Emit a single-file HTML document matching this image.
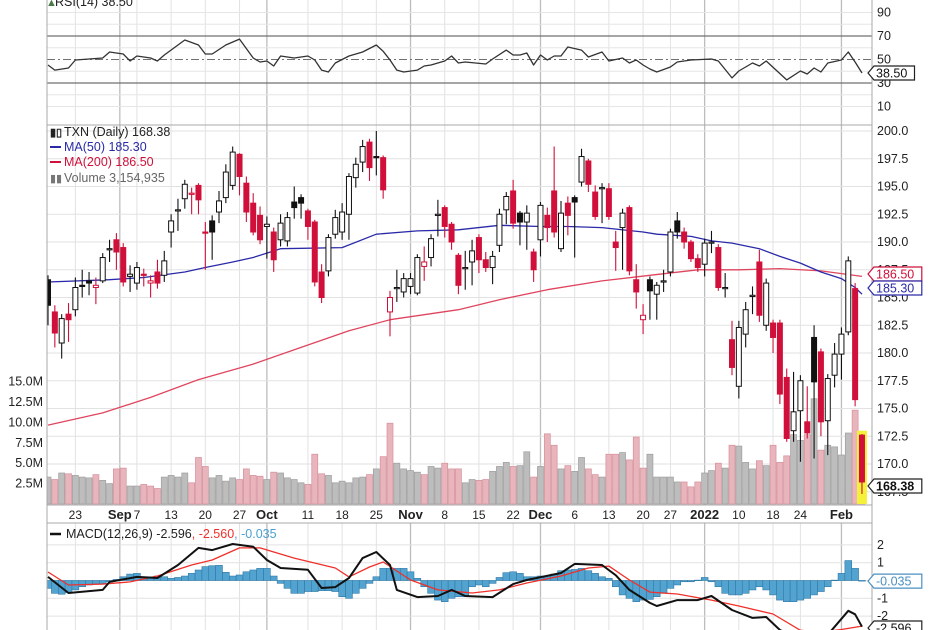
<!DOCTYPE html>
<html><head><meta charset="utf-8"><style>
html,body{margin:0;padding:0;background:#fff;}
svg{display:block;font-family:"Liberation Sans",sans-serif;}
</style></head><body>
<svg id="c" width="936" height="630" viewBox="0 0 936 630">
<defs>
<clipPath id="cpP"><rect x="47" y="125" width="825" height="380"/></clipPath>
<clipPath id="cpM"><rect x="47" y="523" width="825" height="107"/></clipPath>
<clipPath id="cpR"><rect x="47" y="0" width="825" height="125"/></clipPath>
</defs>
<g id="grid"></g><g id="vol" clip-path="url(#cpP)"></g><g id="ma" clip-path="url(#cpP)"></g><g id="candles" clip-path="url(#cpP)"></g>
<g id="rsi" clip-path="url(#cpR)"></g><g id="macd" clip-path="url(#cpM)"></g><g id="axes"></g><g id="labels"></g>
</svg>
<script>
// ---- data ----
const opens=[186.6,183.7,180.9,183.5,183.9,186.1,186.5,185.9,186.5,189.3,190.2,189.5,186.9,186.3,187.1,186.3,187.3,187,190.9,192.8,193.9,194.3,195.1,190.9,191.9,192.7,194,195.1,197.9,195.3,193.5,192.4,191.4,190.9,190.2,190.1,193.6,194,192.8,191.8,187.3,187.4,190.7,190.9,192.5,195.8,197.2,199,197.7,197.6,183.7,185.9,185.5,186,185.4,187.8,188.6,192.5,193.1,191.6,188.8,187.7,188.2,190.4,188.4,187.7,189.7,192.9,194.6,192.6,191.8,189.1,190.2,192.4,194.6,189.4,193.5,194,195.4,197.3,194.5,194.9,194.8,190,191.3,193.1,186.6,183,186.6,185.3,186.5,187.3,191.9,190.9,190,188.5,188,190,189.5,185.9,181.2,177,181.7,185.2,188.2,182.5,182.7,182.7,177.8,173,174.8,173.8,181.4,180.1,173.9,178,179.9,181.9,185.8,172.6];
const closes=[184.3,181.8,183.1,183,185.9,186,186.3,186.1,188.6,189.4,189.1,186.4,187.1,187.7,187,186.5,186.3,188.3,191.9,192.9,195.2,194.4,193.8,190.8,190.9,193.7,196.3,198.1,195.9,192.7,190.9,190.2,191.6,188.4,191.7,192.2,193.1,193.5,191.4,186.4,185,190.4,192.2,192.7,195.9,197,198.6,196.7,197.6,194.7,185,185.9,186.7,186.7,188.6,188.2,190.3,192.5,191.4,190,186.1,187.7,189.2,188.4,187.7,188.7,192.5,194.1,191.7,191.8,192.6,187.5,193.3,191.3,190.9,192.6,192.4,193.6,197.7,195.2,192.3,194.9,192.3,189.5,192.6,187.4,185.5,183.4,185.6,186.1,186.5,190.9,190.9,190,188.5,187.7,189.9,190,185.9,185.9,178.7,182.3,183.9,185.2,183.4,186.3,181.4,176.3,172.3,174.7,177.5,172.8,177.4,173.8,177.7,179.9,181.7,188.3,175.8,168.38];
const highs=[187,184.3,183.5,184.5,186.8,187.5,187.3,186.8,189,190.2,190.8,189.9,187.9,188.2,187.6,187,188.4,189.2,192.5,193.9,195.6,194.9,195.3,191.8,192.4,194.6,197,198.6,198,195.9,194.4,193.2,192.3,191.3,192.5,192.7,195,194.3,193,192,188,190.7,192.9,193.5,196.2,197.6,199.2,199.3,200,197.8,185.6,187.5,187.2,187.2,188.9,189.6,190.7,193.8,193.3,191.8,189,189.2,190.2,190.7,189.1,189.2,193,194.5,195.6,192.8,193.3,189.4,193.6,193.1,198.6,193.7,194.1,194.2,198.4,197.5,195.1,195.3,195.3,191,193,193.3,188,184.4,186.9,186.4,187.5,191.2,192.7,191.3,190.2,188.9,190.3,191,189.8,187.2,182.9,182.9,184.6,186,189.3,186.7,183,183,178.6,178.3,178,177,182.5,180.4,178.1,180.9,182.3,188.7,186.3,172.7];
const lows=[182.5,180.5,179.5,181,183.3,185,185.2,184.4,186.3,188.2,187.5,186,185.5,185.7,186,185,185.8,186.4,189.5,191,193,192.5,192.5,187.5,188.4,191.7,193.5,194.7,194.2,191.8,190.6,189.8,188.5,187.3,189.6,189.6,192.1,192.1,190.2,186,184.5,186.9,190.3,190.2,190.2,194.9,196.3,195.5,196,193.9,181.5,184.6,185,185.3,185.2,186.5,187.8,190.5,190.4,189.3,185.3,185.7,186.1,187.2,187.3,186.2,189.1,191.6,191.2,189.7,189.3,186.4,188.7,190,190.4,189.1,190.6,188.6,195,194.5,192,191.7,192,187.4,187.5,187,184,181.7,183,183,185.5,186.9,190.3,189.4,188.2,187.3,186.9,189,185.6,185,178,175.9,180.5,183.5,182.8,182,180,175.4,172,172,170.2,172.3,170.5,172.5,170.8,176.9,177.6,181.6,175.2,167.3];
const volumes=[3.3,3.0,3.8,3.7,3.5,3.3,3.2,3.6,2.9,2.5,4.3,4.4,2.2,2.2,2.4,2.2,1.9,3.3,3.5,3.3,3.8,2.6,5.7,4.6,3.2,3.5,2.8,3.2,3.0,4.3,3.5,3.4,3.0,3.9,3.8,3.2,3.0,2.6,2.4,6.1,3.7,3.5,2.6,2.8,2.6,3.2,3.3,3.6,4.3,5.8,9.9,5.0,4.3,4.1,3.9,3.6,4.6,4.4,5.0,4.3,4.3,2.6,3.0,2.9,3.0,4.0,4.6,5.1,4.6,4.7,6.4,3.3,4.6,8.6,7.2,4.3,4.7,4.0,5.7,4.3,3.6,3.3,6.1,6.1,6.3,5.4,8.2,4.4,6.1,3.3,3.3,3.3,2.7,2.7,2.1,2.7,3.8,4.1,5.0,4.4,7.2,7.1,5.1,4.3,5.3,4.7,7.2,5.1,5.9,8.5,7.8,8.5,12.9,6.6,7.2,7.0,6.0,8.7,11.5,3.2];
const ma50Idx=[0,9,14,20,23,27,30,34,43,48,54,60,66,72,76,81,87,89,94,97,100,104,107,110,113,116,118,119];
const ma50Val=[186.4,186.6,186.8,187.3,187.7,188.2,188.6,189.4,189.5,190.7,191.0,191.1,191.5,191.4,191.4,191.3,190.9,190.7,190.5,190.1,189.9,189.4,188.7,188.1,187.3,186.7,185.9,185.3];
const ma200Idx=[0,8,15,22,30,37,44,50,60,66,73,81,88,95,101,107,113,119];
const ma200Val=[173.5,174.6,176,177.6,179,180.5,182,183,183.9,184.8,185.7,186.5,187,187.5,187.5,187.6,187.4,186.9];
const rsiIdx=[0,1,3,4,8,9,11,12,13,15,16,17,19,20,22,23,24,26,28,30,31,32,33,34,36,38,39,40,41,42,44,46,48,49,50,51,52,54,55,56,58,59,60,61,64,65,67,68,69,70,71,72,73,74,75,76,78,79,81,82,84,85,86,87,88,89,91,92,94,97,98,100,101,103,104,105,108,110,111,112,113,114,116,117,118,119];
const rsiVal=[45.3,41,42.8,49.6,51.3,56.4,54.7,48.7,53,51.3,48.7,53.8,62.3,66.6,62.3,54.7,54.7,62.3,67.4,51.3,47.9,48.7,44.5,53,51.3,53,49.6,41,39.4,47,53,56.4,62.3,57,49.6,41,39.4,41,44.5,45.3,48.7,53,47,47.9,46.2,50.4,58,53.8,53.8,55.5,45.3,53.8,49.6,53,53,60.6,58,52.1,56.4,48.7,51.3,47,49.6,45.3,41.9,39.4,43.6,47.9,49.6,50.4,48.7,34.3,40.2,47,44.5,48.7,32.6,40.2,37.7,42.8,39.4,47,49.6,56.4,47.9,38.5];
const macdIdx=[0,3,8,9,13,16,19,22,24,27,30,32,34,38,40,42,44,46,48,50,51,54,57,59,61,65,68,70,75,77,81,83,85,88,89,92,95,97,100,103,105,107,110,113,115,117,118,119];
const macdVal=[0.2,-0.7,-0.53,-0.08,0.2,0.14,0.87,1.83,1.71,2.05,1.9,1.15,0.7,0.6,-0.42,-0.37,0.14,1.26,1.6,0.87,-0.53,-0.93,-0.87,-0.53,-0.87,-0.93,-0.2,0.03,0.42,0.93,0.87,0.3,-0.53,-1.26,-1.43,-1.1,-1.1,-0.87,-1.66,-2.1,-2.05,-2.78,-3.3,-3.5,-2.6,-1.7,-1.9,-2.596];
const sigIdx=[0,3,8,12,16,21,24,28,31,36,42,44,47,49,53,57,62,66,70,75,79,82,85,88,92,97,101,106,110,113,116,119];
const sigVal=[0.48,-0.25,-0.2,-0.08,0.25,0.87,1.15,1.83,1.83,1.26,0.7,0.2,0.76,1.04,0.03,-0.53,-0.7,-0.53,-0.14,0.25,0.7,0.81,0.03,-0.65,-0.76,-1.1,-1.43,-1.88,-2.8,-2.9,-2.75,-2.56];
const hist=[-0.44,-0.72,-0.77,-0.68,-0.53,-0.35,-0.25,-0.16,-0.16,-0.07,0.06,0.21,0.36,0.4,0.21,0.21,0.25,0.21,0.12,0.17,0.25,0.4,0.59,0.78,0.83,0.85,0.46,0.25,0.31,0.49,0.59,0.68,0.68,0.25,-0.16,-0.44,-0.72,-0.72,-0.62,-0.62,-0.57,-0.57,-0.62,-0.91,-1.0,-0.72,-0.44,-0.16,0.21,0.68,0.68,0.68,0.68,0.49,0.12,-0.35,-0.72,-1.1,-1.19,-1.0,-0.91,-0.91,-0.35,-0.25,-0.35,-0.16,0.17,0.44,0.49,0.4,0.21,0.21,0.25,0.25,0.36,0.55,0.59,0.62,0.68,0.55,0.4,0.21,0.12,-0.35,-0.81,-1.0,-1.19,-1.1,-1.06,-0.91,-0.72,-0.44,-0.25,-0.07,-0.07,0.02,0.17,-0.07,-0.35,-0.72,-0.81,-0.81,-0.72,-0.53,-0.35,-0.53,-0.81,-1.1,-1.19,-1.19,-1.1,-1.0,-0.81,-0.62,-0.35,0.02,0.4,1.12,0.68,-0.035];
const dateLabels=["23","Sep","7","13","20","27","Oct","11","18","25","Nov","8","15","22","Dec","6","13","20","27","2022","10","18","24","Feb"];
const dateIdx=[4,10.5,13,18,23,28,32,38,43,48,53,58,63,68,72,77,82,87,91,96,101,106,110,116];
const priceTicks=[200,197.5,195,192.5,190,187.5,185,182.5,180,177.5,175,172.5,170,167.5];
const volTicks=[15,12.5,10,7.5,5,2.5];
const rsiTicks=[90,70,50,30,10];
const macdTicks=[2,1,-1,-2];
// ---- scales ----
const xOf=i=>48+i*6.84;
const yP=p=>131+(200-p)*11.1;
const yV=m=>504-m*8.16;
const yR=r=>83-(r-30)*1.175;
const yM=v=>580.5-v*17.8;
const NS="http://www.w3.org/2000/svg";
function mk(tag,attrs,parent,text){const e=document.createElementNS(NS,tag);for(const k in attrs)e.setAttribute(k,attrs[k]);if(text!==undefined)e.textContent=text;document.getElementById(parent).appendChild(e);return e;}
// grid
const months=["Sep","Oct","Nov","Dec","2022","Feb"];
dateIdx.forEach((d,k)=>{const x=xOf(d);const isM=months.includes(dateLabels[k]);
 const g=mk('line',{x1:x,x2:x,y1:0,y2:630,stroke:isM?'#bdbdbd':'#e2e2e2','stroke-width':isM?1.3:1},'grid');
 
 });
priceTicks.forEach(p=>{const y=yP(p);const g=mk('line',{x1:47,x2:872,y1:y,y2:y,stroke:'#e2e2e2'},'grid');
 
 });
[90,80,60,40,20,10].forEach(r=>{const y=yR(r);const g=mk('line',{x1:47,x2:872,y1:y,y2:y,stroke:'#e6e6e6'},'grid');
 
 });
[2,1,0,-1,-2].forEach(v=>{const y=yM(v);const g=mk('line',{x1:47,x2:872,y1:y,y2:y,stroke:'#e2e2e2'},'grid');
 
 });
// rsi lines 70/30/50
[70,30].forEach(r=>{const y=yR(r);const l=mk('line',{x1:47,x2:872,y1:y,y2:y,stroke:'#707070','stroke-width':1.3},'grid');
 
 });
const mid=mk('line',{x1:47,x2:872,y1:yR(50),y2:yR(50),stroke:'#707070','stroke-dasharray':'8,3,2,3'},'grid');


// volume
volumes.forEach((v,i)=>{const down=i>0&&closes[i]<closes[i-1];const x=xOf(i);
 const r=mk('rect',{x:x-3,y:yV(v),width:6,height:504-yV(v),fill:down?'#e8b5bd':'#bdbdbd',stroke:down?'#d68f9b':'#9e9e9e','stroke-width':0.7},'vol');
 
 });
// highlight last
const hl=mk('rect',{x:xOf(119)-5,y:yP(173),width:10,height:504-yP(173),fill:'#f5f03a'},'vol');


// MA lines
function poly(idx,val,yf,color,w,parent,name){const pts=idx.map((d,k)=>xOf(d).toFixed(1)+','+yf(val[k]).toFixed(1)).join(' ');
 const p=mk('polyline',{points:pts,fill:'none',stroke:color,'stroke-width':w,'stroke-linejoin':'round'},parent);
 
 }
poly(ma200Idx,ma200Val,yP,'#e0455f',1.3,'ma','ma200-line');
poly(ma50Idx,ma50Val,yP,'#2a2aa8',1.3,'ma','ma50-line');
// candles
opens.forEach((o,i)=>{const c=closes[i];const x=xOf(i);const down=i>0&&c<closes[i-1];const col=down?'#d0103a':'#111';
 const w=mk('line',{x1:x,x2:x,y1:yP(highs[i]),y2:yP(lows[i]),stroke:col,'stroke-width':1.1},'candles');
 
 
 const top=yP(Math.max(o,c)),bot=yP(Math.min(o,c));const h=Math.max(bot-top,1.2);
 const hollow=c>=o;
 const b=mk('rect',{x:x-2.5,y:top,width:5,height:h,fill:hollow?'#fff':col,stroke:col,'stroke-width':1},'candles');
 
 });
// RSI
poly(rsiIdx,rsiVal,yR,'#333',1.3,'rsi','rsi-line');
// MACD
hist.forEach((v,i)=>{const x=xOf(i);const y0=yM(0),y1=yM(v);
 const r=mk('rect',{x:x-3.4,y:Math.min(y0,y1),width:6.84,height:Math.max(Math.abs(y1-y0),0.5),fill:'#52a3d0',stroke:'#2f78a6','stroke-width':0.6},'macd');
 
 });
poly(sigIdx,sigVal,yM,'#f0302a',1.3,'macd','signal-line');
poly(macdIdx,macdVal,yM,'#111',2,'macd','macd-line');
// axes / frames
[[47,0,47,630],[872,0,872,630],[47,125,872,125],[47,505,872,505],[47,523,872,523]].forEach(a=>{
 const l=mk('line',{x1:a[0],y1:a[1],x2:a[2],y2:a[3],stroke:'#a8a8a8','stroke-width':1},'axes');
 
 });
const ax=mk('rect',{x:47.5,y:505.5,width:824,height:17,fill:'#fff'},'axes');


// tick labels
function txt(x,y,s,opt,name){const t=mk('text',Object.assign({x:x,y:y,'font-size':12,fill:'#222'},opt||{}),'labels',s);
 
 return t;}
dateLabels.forEach((s,k)=>{const b=months.includes(s);txt(xOf(dateIdx[k]),519,s,{'text-anchor':'middle','font-weight':b?'bold':'normal','font-size':b?13:12},'x-tick-label');});
priceTicks.forEach(p=>txt(877,yP(p)+4,p.toFixed(1),{'font-size':12.5},'price-tick-label'));
volTicks.forEach(m=>txt(43,yV(m)+4,m.toFixed(1)+'M',{'text-anchor':'end','font-size':12.5},'volume-tick-label'));
rsiTicks.forEach(r=>txt(877,yR(r)+4,String(r),{'font-size':12.5},'rsi-tick-label'));
macdTicks.forEach(v=>txt(877,yM(v)+4,String(v),{'font-size':12.5},'macd-tick-label'));
// value tags
function tag(y,s,color,bold,name){const g=mk('polygon',{points:`868,${y} 874,${y-7} ${s.length*7.3+878},${y-7} ${s.length*7.3+878},${y+7} 874,${y+7}`,fill:'#fff',stroke:color,'stroke-width':1.2},'labels');
 
 
 txt(876,y+4.5,s,{'font-size':12.5,fill:color==='#222'?'#111':color,'font-weight':bold?'bold':'normal'},name);}
tag(yR(38.5),'38.50','#222',false,'rsi-value-tag');
tag(274,'186.50','#d0103a',false,'ma200-value-tag');
tag(288,'185.30','#2a2aa8',false,'ma50-value-tag');
tag(486,'168.38','#222',true,'price-value-tag');
tag(yM(-0.035),'-0.035','#4a90c0',false,'histogram-value-tag');
tag(628,'-2.596','#222',false,'macd-value-tag');
// legends
const lg=[[55,6,'RSI(14) 38.50','#222'],[64,136,'TXN (Daily) 168.38','#222'],[64,151,'MA(50) 185.30','#2a2aa8'],[64,166,'MA(200) 186.50','#d0103a'],[64,182,'Volume 3,154,935','#666']];
lg.forEach(l=>txt(l[0],l[1],l[2],{'font-size':12.5,fill:l[3]},'legend-entry'));
[[50,147,'#2a2aa8'],[50,162,'#d0103a']].forEach(a=>{const l=mk('line',{x1:a[0],x2:a[0]+11,y1:a[1],y2:a[1],stroke:a[2],'stroke-width':2},'labels');
 
 });
const ic=mk('text',{x:50,y:136,'font-size':11,fill:'#222','font-weight':'bold'},'labels','▮▯');


const vi=mk('text',{x:50,y:182,'font-size':11,fill:'#777'},'labels','▮▮');


const ri=mk('text',{x:46,y:6,'font-size':11,fill:'#4a7a4a'},'labels','▲');


const ml=mk('text',{x:66,y:538,'font-size':12.5,fill:'#222'},'labels');


[['MACD(12,26,9) -2.596','#222'],[', -2.560','#f0302a'],[', -0.035','#4aa0d0']].forEach(s=>{const t=document.createElementNS(NS,'tspan');t.setAttribute('fill',s[1]);t.textContent=s[0];ml.appendChild(t);});
const ms=mk('line',{x1:50,x2:61,y1:534,y2:534,stroke:'#111','stroke-width':2.5},'labels');


</script>
</body></html>
